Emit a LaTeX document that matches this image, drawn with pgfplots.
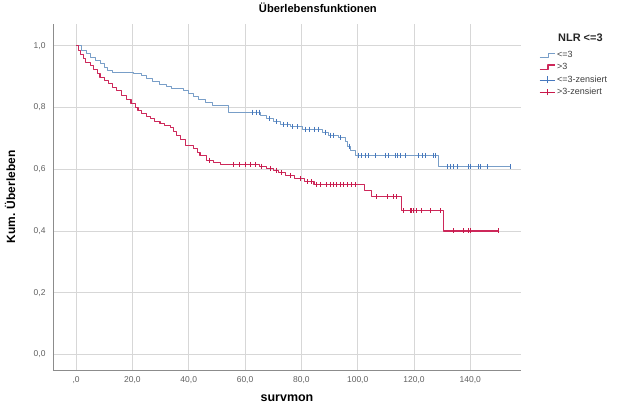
\documentclass[border=0pt]{standalone}
\usepackage{fontspec}
\setmainfont{Liberation Sans}
\usepackage{pgfplots}
\pgfplotsset{compat=1.18}

\definecolor{kmblue}{RGB}{120,158,200}
\definecolor{kmbluemark}{RGB}{70,120,190}
\definecolor{kmredline}{RGB}{205,40,90}
\definecolor{kmredmark}{RGB}{200,25,75}
\definecolor{gridgray}{RGB}{215,215,215}
\definecolor{axisgray}{RGB}{140,140,140}
\definecolor{ticktext}{RGB}{95,95,95}
\definecolor{legtext}{RGB}{60,60,60}

% legend symbols: a small step for the survival curves, a crossed line for censored cases
\pgfplotsset{
  stepleg/.style={legend image code/.code={%
    \draw[##1,line join=round] (0cm,-0.07cm) -- (0.3cm,-0.07cm) -- (0.3cm,0.09cm) -- (0.55cm,0.09cm);}},
  censleg/.style={legend image code/.code={%
    \draw[##1,mark=none] (0cm,0cm) -- (0.55cm,0cm);
    \draw[##1,mark=none] (0.27cm,-0.12cm) -- (0.27cm,0.12cm);}},
}

\begin{document}
\begin{tikzpicture}
\begin{axis}[
  scale only axis,
  width=468bp, height=346bp,
  xmin=-8.2, xmax=158,
  ymin=-0.05, ymax=1.07,
  axis x line*=bottom, axis y line*=left,
  axis line style={axisgray, line width=0.8pt, -},
  xtick={0,20,40,60,80,100,120,140},
  xticklabels={{,0},{20,0},{40,0},{60,0},{80,0},{100,0},{120,0},{140,0}},
  ytick={0,0.2,0.4,0.6,0.8,1.0},
  yticklabels={{0,0},{0,2},{0,4},{0,6},{0,8},{1,0}},
  major tick length=0pt,
  xmajorgrids, ymajorgrids,
  major grid style={gridgray, line width=0.7pt},
  tick label style={font=\fontsize{8.5}{9}\selectfont, text=ticktext},
  xticklabel style={yshift=-3.5bp},
  yticklabel style={xshift=-4bp},
  title={\textbf{Überlebensfunktionen}},
  title style={at={(rel axis cs:0.566,1)}, anchor=south, yshift=2bp, font=\fontsize{11.2}{13}\selectfont},
  xlabel={\textbf{survmon}},
  xlabel style={at={(rel axis cs:0.5,-0.062)}, anchor=north, font=\fontsize{12.5}{14}\selectfont},
  ylabel={\textbf{Kum. Überleben}},
  ylabel style={at={(rel axis cs:-0.073,0.5)}, anchor=south, font=\fontsize{12}{14}\selectfont},
  legend style={at={(rel axis cs:1.038,0.925)}, anchor=north west, draw=none, fill=none,
    font=\fontsize{9}{10}\selectfont, text=legtext, row sep=1.3bp, inner sep=0bp,
    nodes={inner sep=1.5bp}},
  legend cell align=left,
  clip=false,
]
% Kaplan-Meier step functions
\addplot[const plot, color=kmblue, line width=0.7pt, line join=round, stepleg]
coordinates {
(0,1.0) (2.0,0.985) (3.5,0.975) (5.0,0.962) (7.0,0.952) (8.5,0.944) (10.0,0.93)
(11.0,0.92) (13.0,0.915) (20.5,0.91) (23.0,0.905) (25.0,0.895) (27.0,0.885)
(29.5,0.876) (32.0,0.868) (34.0,0.862) (38.0,0.855) (40.0,0.845) (41.5,0.835)
(43.5,0.825) (46.0,0.815) (48.5,0.808) (54.0,0.785) (65.5,0.775) (67.5,0.765)
(70.0,0.755) (72.5,0.745) (76.0,0.738) (80.5,0.73) (87.5,0.72) (89.5,0.71)
(93.0,0.702) (95.5,0.69) (96.5,0.675) (97.5,0.66) (99.0,0.645) (128.5,0.608)
(154.2,0.608)};
\addlegendentry{<=3}
\addplot[const plot, color=kmredline, line width=1.1pt, line join=round, stepleg]
coordinates {
(0,1.0) (0.8,0.985) (1.5,0.972) (2.5,0.958) (3.5,0.945) (5.0,0.935) (6.2,0.924)
(7.5,0.91) (8.5,0.897) (10.0,0.886) (11.5,0.876) (13.0,0.865) (14.5,0.854)
(16.0,0.84) (18.0,0.827) (19.5,0.814) (21.0,0.8) (22.0,0.79) (23.3,0.78)
(25.0,0.77) (26.3,0.763) (28.0,0.755) (29.8,0.747) (31.5,0.742) (33.4,0.736)
(34.5,0.722) (35.8,0.709) (37.0,0.695) (38.7,0.677) (41.7,0.668) (43.0,0.655)
(44.0,0.645) (46.4,0.629) (48.8,0.622) (51.2,0.616) (65.0,0.61) (67.5,0.603)
(70.0,0.597) (72.0,0.588) (74.5,0.58) (77.5,0.57) (81.0,0.56) (84.5,0.549)
(102.5,0.532) (105.0,0.511) (115.5,0.465) (130.5,0.40) (150.0,0.40)};
\addlegendentry{>3}
% censored observations
\addplot[only marks, mark=|, mark size=2.5pt, color=kmbluemark, mark options={line width=0.9pt}, censleg]
coordinates {
(62.5,0.785) (64.0,0.785) (65.0,0.785) (68.5,0.765) (71.0,0.755) (73.5,0.745)
(75.0,0.745) (77.0,0.738) (78.5,0.738) (81.5,0.73) (83.0,0.73) (84.5,0.73)
(86.0,0.73) (88.5,0.72) (90.5,0.71) (91.5,0.71) (94.0,0.702) (97.0,0.675)
(100.2,0.645) (101.5,0.645) (102.7,0.645) (103.7,0.645) (106.2,0.645) (109.8,0.645)
(110.8,0.645) (113.3,0.645) (114.0,0.645) (115.1,0.645) (116.9,0.645) (121.5,0.645)
(122.9,0.645) (124.0,0.645) (126.8,0.645) (127.5,0.645)
(131.8,0.608) (132.9,0.608) (133.9,0.608) (135.3,0.608) (139.2,0.608) (140.0,0.608)
(142.8,0.608) (143.5,0.608) (146.0,0.608) (154.2,0.608)};
\addlegendentry{<=3-zensiert}
\addplot[only marks, mark=|, mark size=2.5pt, color=kmredmark, mark options={line width=0.9pt}, censleg]
coordinates {
(47.5,0.629) (55.9,0.616) (58.0,0.616) (60.0,0.616) (62.0,0.616) (63.6,0.616)
(66.0,0.61) (69.0,0.603) (71.0,0.597) (73.0,0.588) (76.0,0.58) (79.6,0.57)
(82.0,0.56) (83.7,0.56) (85.5,0.549) (86.7,0.549) (89.0,0.549) (90.5,0.549)
(91.4,0.549) (92.5,0.549) (93.8,0.549) (95.0,0.549) (96.2,0.549) (97.9,0.549)
(99.1,0.549) (106.8,0.511) (110.4,0.511) (112.7,0.511) (113.9,0.511)
(116.3,0.465) (118.6,0.465) (119.2,0.465) (119.8,0.465) (121.0,0.465) (122.8,0.465)
(125.8,0.465) (129.3,0.465) (134.0,0.40) (137.6,0.40) (139.4,0.40) (140.0,0.40)
(150.0,0.40)};
\addlegendentry{>3-zensiert}
\node[anchor=west, inner sep=0pt, font=\fontsize{11}{12}\selectfont\bfseries, text=black!85]
  at (rel axis cs:1.079,0.96) {NLR <=3};
\coordinate (sw) at (rel axis cs:0,0);
\coordinate (ne) at (rel axis cs:1,1);
\end{axis}
\pgfresetboundingbox
\useasboundingbox ([shift={(-53bp,-42bp)}]sw) rectangle ([shift={(116bp,24bp)}]ne);
\end{tikzpicture}
\end{document}
